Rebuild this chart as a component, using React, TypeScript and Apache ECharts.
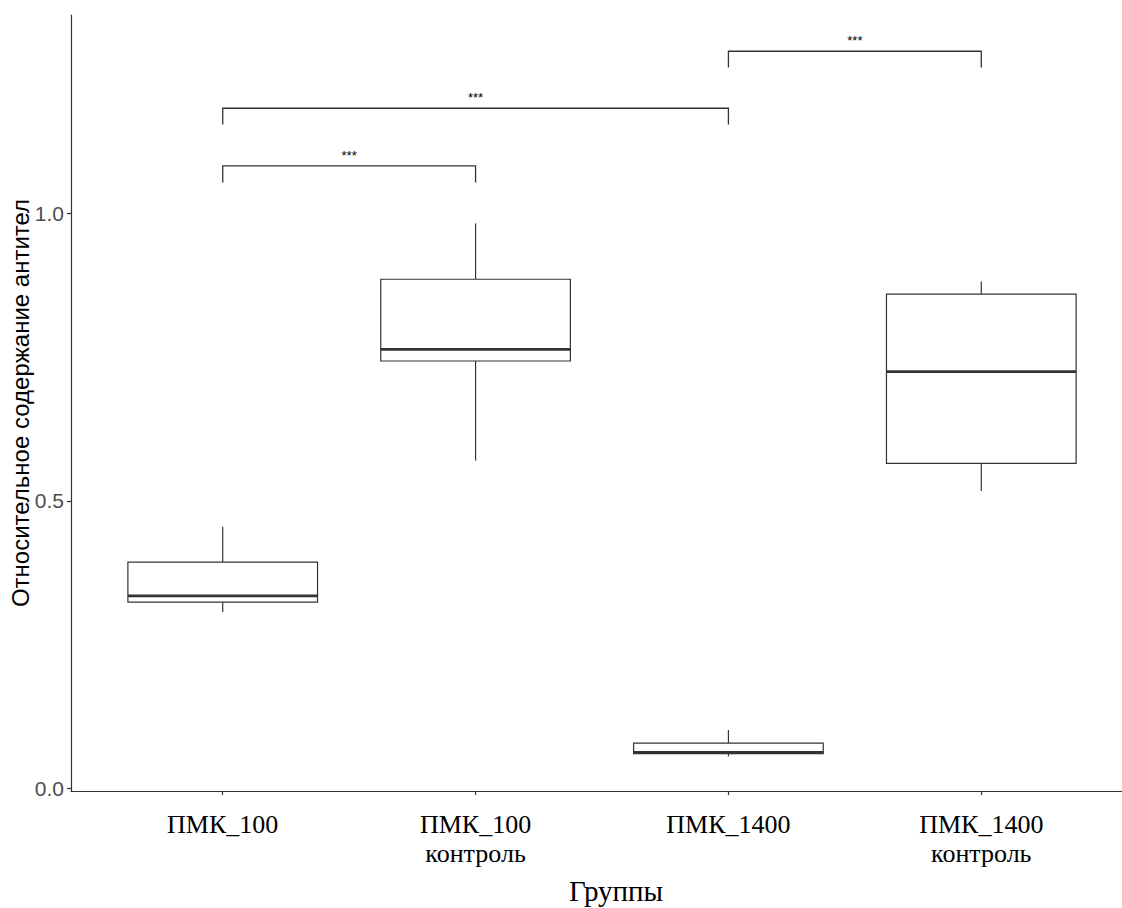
import React, { useEffect, useRef } from "react";
import * as echarts from "echarts";

const categories = ["ПМК_100", "ПМК_100\nконтроль", "ПМК_1400", "ПМК_1400\nконтроль"];
const whiskerLow = [0.307, 0.57, 0.056, 0.517];
const q1 = [0.324, 0.743, 0.061, 0.565];
const median = [0.335, 0.763, 0.063, 0.7245];
const q3 = [0.3935, 0.885, 0.079, 0.859];
const whiskerHigh = [0.455, 0.982, 0.102, 0.881];

const bracketFrom = [0, 0, 2];
const bracketTo = [1, 2, 3];
const bracketY = [1.082, 1.182, 1.281];
const bracketTip = [1.053, 1.154, 1.253];
const bracketLabels = ["***", "***", "***"];

const yTicks = [0, 0.5, 1.0];

const SANS = "'Liberation Sans', Arial, sans-serif";
const SERIF = "'Liberation Serif', 'Times New Roman', serif";
const INK = "#333333";

export default function App() {
  const ref = useRef<HTMLDivElement>(null);
  useEffect(() => {
    if (!ref.current) return;
    const chart = echarts.init(ref.current, null, { renderer: "svg" });
    const boxData = categories.map((_, i) => [i, whiskerLow[i], q1[i], median[i], q3[i], whiskerHigh[i]]);
    const bracketData = bracketFrom.map((f, i) => [f, bracketTo[i], bracketY[i], bracketTip[i], i]);
    chart.setOption({
      animation: false,
      backgroundColor: "#ffffff",
      grid: { left: 71, right: -11, top: 15, bottom: 117, containLabel: false, outerBoundsMode: "none" },
      xAxis: {
        type: "value",
        min: -0.6,
        max: 3.6,
        axisLine: { show: true, onZero: false, lineStyle: { color: INK, width: 1.2 } },
        axisTick: { show: true, customValues: [0, 1, 2, 3], length: 4, lineStyle: { color: INK, width: 1.2 } },
        axisLabel: {
          customValues: [0, 1, 2, 3],
          formatter: (v: number) => categories[Math.round(v)],
          fontFamily: SERIF,
          fontSize: 26,
          lineHeight: 29,
          color: "#000000",
          margin: 19,
        },
        splitLine: { show: false },
        name: "Группы",
        nameLocation: "middle",
        nameGap: 85,
        nameMoveOverlap: false,
        nameTextStyle: { fontFamily: SERIF, fontSize: 29, color: "#000000", padding: [0, 0, 0, 28] },
      },
      yAxis: {
        type: "value",
        min: -0.004,
        max: 1.344,
        axisLine: { show: true, onZero: false, lineStyle: { color: INK, width: 1.2 } },
        axisTick: { show: true, customValues: yTicks, length: 4, lineStyle: { color: INK, width: 1.2 } },
        axisLabel: {
          customValues: yTicks,
          formatter: (v: number) => v.toFixed(1),
          fontFamily: SANS,
          fontSize: 21,
          color: "#4d4d4d",
          margin: 7,
        },
        splitLine: { show: false },
        name: "Относительное содержание антител",
        nameLocation: "middle",
        nameGap: 39,
        nameMoveOverlap: false,
        nameTextStyle: { fontFamily: SANS, fontSize: 24, color: "#000000" },
      },
      series: [
        {
          type: "custom",
          clip: false,
          data: boxData,
          encode: { x: 0, y: [1, 2, 3, 4, 5] },
          renderItem: (params: any, api: any) => {
            const x = api.value(0);
            const pLo = api.coord([x, api.value(1)]);
            const pQ1 = api.coord([x, api.value(2)]);
            const pMed = api.coord([x, api.value(3)]);
            const pQ3 = api.coord([x, api.value(4)]);
            const pHi = api.coord([x, api.value(5)]);
            const half = api.size([0.75, 0])[0] / 2;
            const cx = pMed[0];
            const lineStyle = { stroke: INK, lineWidth: 1.2, fill: null };
            return {
              type: "group",
              children: [
                { type: "line", shape: { x1: cx, y1: pHi[1], x2: cx, y2: pQ3[1] }, style: lineStyle },
                { type: "line", shape: { x1: cx, y1: pQ1[1], x2: cx, y2: pLo[1] }, style: lineStyle },
                {
                  type: "rect",
                  shape: { x: cx - half, y: pQ3[1], width: half * 2, height: pQ1[1] - pQ3[1] },
                  style: { fill: "#ffffff", stroke: INK, lineWidth: 1.2 },
                },
                {
                  type: "line",
                  shape: { x1: cx - half, y1: pMed[1], x2: cx + half, y2: pMed[1] },
                  style: { stroke: INK, lineWidth: 2.8 },
                },
              ],
            };
          },
          z: 2,
        },
        {
          type: "custom",
          clip: false,
          data: bracketData,
          encode: { x: [0, 1], y: [2, 3] },
          renderItem: (params: any, api: any) => {
            const x1 = api.value(0);
            const x2 = api.value(1);
            const y = api.value(2);
            const tip = api.value(3);
            const idx = api.value(4);
            const a = api.coord([x1, tip]);
            const b = api.coord([x1, y]);
            const c = api.coord([x2, y]);
            const d = api.coord([x2, tip]);
            return {
              type: "group",
              children: [
                {
                  type: "polyline",
                  shape: { points: [a, b, c, d] },
                  style: { stroke: INK, lineWidth: 1.3, fill: null },
                },
                {
                  type: "text",
                  x: (b[0] + c[0]) / 2,
                  y: b[1] - 4,
                  style: {
                    text: bracketLabels[idx],
                    fontFamily: SANS,
                    fontSize: 13,
                    fill: "#000000",
                    align: "center",
                    verticalAlign: "bottom",
                  },
                },
              ],
            };
          },
          z: 3,
        },
      ],
    });
    return () => chart.dispose();
  }, []);
  return <div ref={ref} style={{ position: "absolute", left: 0, top: 0, width: 1122, height: 908 }} />;
}
